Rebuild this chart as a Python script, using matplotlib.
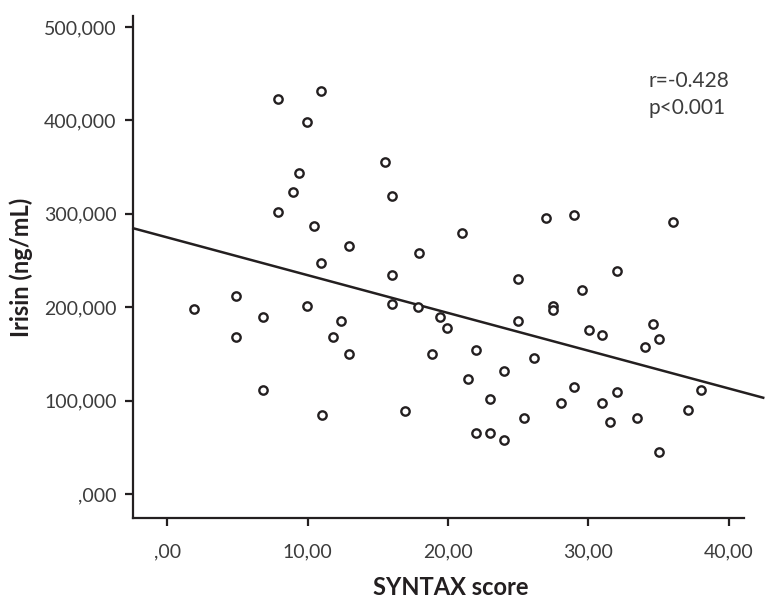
import matplotlib.pyplot as plt
import numpy as np

# SYNTAX score vs irisin
syntax = [7.88, 10.93, 9.93, 15.48, 9.38, 8.95, 15.98, 7.91, 10.47, 12.94,
          17.91, 10.93, 15.98, 4.89, 20.97, 26.97, 28.95, 36.04, 24.96, 32.03,
          29.52, 1.88, 6.79, 4.89, 9.93, 12.39, 11.82, 12.94, 6.79, 11.02,
          16.0, 17.88, 19.44, 19.94, 18.87, 16.95, 27.49, 27.49, 24.96, 30.06,
          30.96, 34.59, 35.0, 34.02, 21.99, 26.1, 23.98, 21.42, 28.95, 32.03,
          38.01, 22.98, 28.02, 30.96, 37.11, 25.43, 31.53, 33.48, 21.99, 22.98,
          23.98, 35.0]
irisin = [423200, 431200, 398300, 355500, 344000, 323000, 319100, 302200, 287300, 265800,
          257700, 247000, 234500, 212000, 279400, 295200, 299000, 291200, 230200, 238800,
          218400, 197800, 189800, 167800, 201600, 185500, 167800, 149600, 111300, 84900,
          203700, 199900, 189800, 177700, 149600, 88900, 201300, 197000, 185500, 175600,
          169900, 182000, 165600, 157700, 153900, 145600, 131400, 123100, 114900, 109500,
          111000, 101700, 97100, 97400, 89600, 81000, 76800, 81000, 65600, 65600,
          57800, 45300]

# fit line as drawn in the picture
fit_intercept = 274700
fit_slope = -4043
fit_x_end = 42.45

x_ticks = [0, 10, 20, 30, 40]
x_ticklabels = [',00', '10,00', '20,00', '30,00', '40,00']
y_ticks = [0, 100000, 200000, 300000, 400000, 500000]
y_ticklabels = [',000', '100,000', '200,000', '300,000', '400,000', '500,000']

plt.rcParams['font.family'] = ['Lato', 'DejaVu Sans']
ink = '#231f20'
grey = '#3c3c3c'

fig = plt.figure(figsize=(7.72, 6.02), dpi=100)
ax = fig.add_axes([0.1727, 0.1395, 0.791, 0.834])

ax.set_xlim(-2.42, 41.08)
ax.set_ylim(-25700, 511800)

fx = np.array([-2.42, fit_x_end])
ax.plot(fx, fit_intercept + fit_slope * fx, color=ink, lw=1.8, clip_on=False, zorder=2)
ax.plot(syntax, irisin, 'o', ms=6, mfc='white', mec=ink, mew=1.7, zorder=3)

ax.spines['top'].set_visible(False)
ax.spines['right'].set_visible(False)
for s in ('left', 'bottom'):
    ax.spines[s].set_linewidth(1.6)
    ax.spines[s].set_color(ink)

ax.set_xticks(x_ticks)
ax.set_xticklabels(x_ticklabels)
ax.set_yticks(y_ticks)
ax.set_yticklabels(y_ticklabels)
ax.tick_params(direction='out', length=6, width=1.6, color=ink,
               labelsize=14, labelcolor=grey, pad=6)
ax.tick_params(axis='x', pad=12)

ax.set_xlabel('SYNTAX score', fontsize=17, fontweight='bold', color=ink)
ax.xaxis.set_label_coords(0.52, -0.115)
ax.set_ylabel('Irisin (ng/mL)', fontsize=17, fontweight='bold', color=ink)
ax.yaxis.set_label_coords(-0.165, 0.5)

ax.text(0.843, 0.843, 'r=-0.428\np<0.001', transform=ax.transAxes, fontsize=15,
        color=grey, ha='left', va='center', linespacing=1.45)

fig.savefig('out.png', dpi=100)
